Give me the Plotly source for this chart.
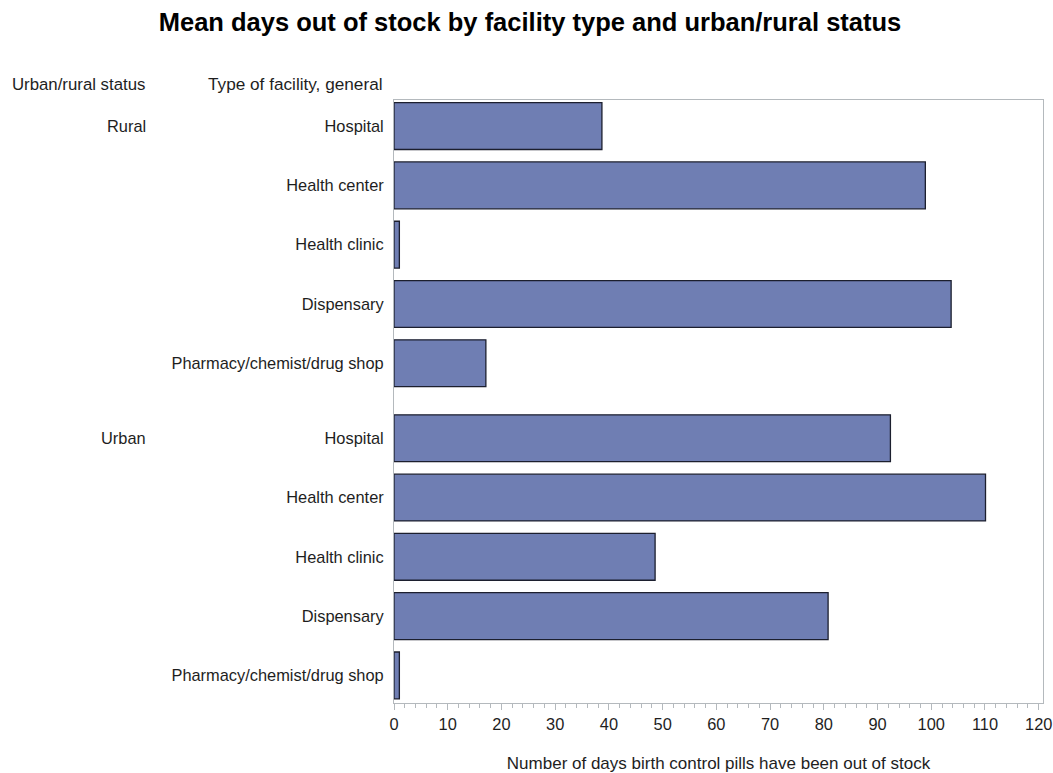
import plotly.graph_objects as go

status = ["Rural", "Urban"]
facilities = ["Hospital", "Health center", "Health clinic", "Dispensary", "Pharmacy/chemist/drug shop"]
rural_days = [38.7, 98.9, 1.0, 103.7, 17.1]
urban_days = [92.4, 110.1, 48.6, 80.8, 1.0]

group_gap = 1.265
ypos, labels, values = [], [], []
group_first = []
for g, vals in enumerate([rural_days, urban_days]):
    base = g * (len(facilities) - 1 + group_gap)
    group_first.append(base)
    for i, (f, v) in enumerate(zip(facilities, vals)):
        ypos.append(base + i)
        labels.append(f)
        values.append(v)

font_family = "Liberation Sans, Arial, sans-serif"
text_color = "#1e1e1e"
frame_color = "#b4b9bd"
FS = 16.4

W, H = 1053, 773
L, R, T, B = 394, 10, 100, 70
PW = W - L - R

fig = go.Figure()
fig.add_trace(go.Bar(
    x=values, y=ypos, orientation="h", width=0.79,
    marker=dict(color="#6f7eb3", line=dict(color="#1c1f2e", width=1.3)),
    hoverinfo="x",
))

fig.update_layout(
    width=W, height=H,
    margin=dict(l=L, r=R, t=T, b=B, autoexpand=False),
    paper_bgcolor="white", plot_bgcolor="white",
    font=dict(family=font_family, size=FS, color=text_color),
    title=dict(text="<b>Mean days out of stock by facility type and urban/rural status</b>",
               x=530 / W, xanchor="center", y=1 - 22 / H, yanchor="middle",
               font=dict(family=font_family, size=25.5, color="black")),
    showlegend=False,
    xaxis=dict(range=[0, 120.8], tick0=0, dtick=10, ticks="outside", ticklen=6, tickcolor=frame_color,
               showgrid=False, zeroline=False, showline=True, linecolor=frame_color, linewidth=1,
               mirror=True, tickfont=dict(size=FS, color=text_color), automargin=False,
               ticklabeloverflow="allow",
               minor=dict(dtick=2, ticks="outside", ticklen=4, tickcolor=frame_color, showgrid=False),
               title=dict(text="Number of days birth control pills have been out of stock", standoff=26,
                          font=dict(size=17, color=text_color))),
    yaxis=dict(range=[9.73, -0.44], tickvals=ypos, ticktext=labels, ticks="", showgrid=False,
               zeroline=False, showline=True, linecolor=frame_color, linewidth=1, mirror=True,
               tickfont=dict(size=FS, color=text_color), ticklabelstandoff=6, automargin=False),
)

fig.add_annotation(text="Urban/rural status", xref="paper", yref="paper",
                   x=-(394 - 10) / PW, y=1.0, xanchor="left", yanchor="bottom", yshift=4,
                   showarrow=False, font=dict(size=16.8, color=text_color))
fig.add_annotation(text="Type of facility, general", xref="paper", yref="paper",
                   x=-(394 - 385) / PW, y=1.0, xanchor="right", yanchor="bottom", yshift=4,
                   showarrow=False, font=dict(size=17.2, color=text_color))
for s, yb in zip(status, group_first):
    fig.add_annotation(text=s, xref="paper", yref="y", x=-(394 - 148) / PW, y=yb,
                       xanchor="right", yanchor="middle", showarrow=False,
                       font=dict(size=FS, color=text_color))

fig.write_html("out.html", config={"displayModeBar": False},
               post_script="document.body.style.margin='0';document.body.style.overflow='hidden';")
